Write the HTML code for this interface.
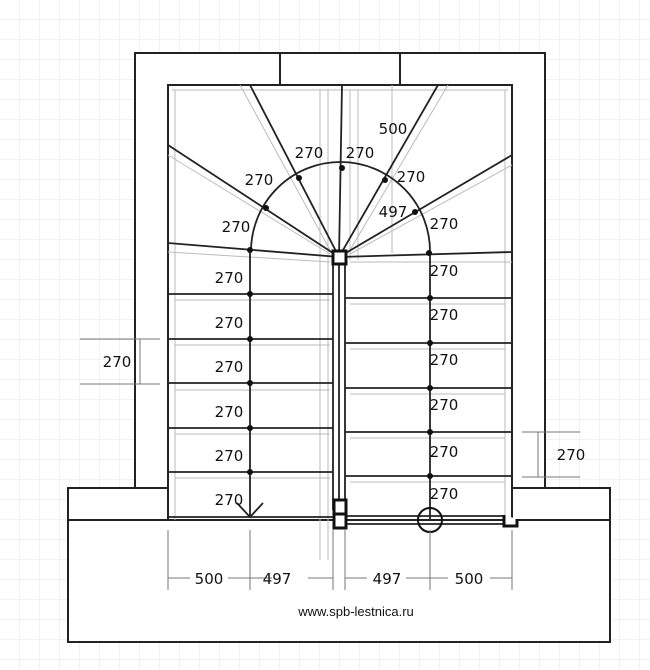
<!DOCTYPE html>
<html><head><style>html,body{margin:0;padding:0;background:#fff}svg{display:block}text{font-family:"DejaVu Sans","Liberation Sans",sans-serif;font-size:15px;fill:#111}</style></head><body>
<svg width="650" height="670" viewBox="0 0 650 670" xmlns="http://www.w3.org/2000/svg">
<defs><pattern id="g" width="20" height="20" patternUnits="userSpaceOnUse"><path d="M20 0V20H0" fill="none" stroke="#e6e6e6" stroke-width="1"/></pattern></defs>
<rect width="650" height="670" fill="url(#g)"/>
<g fill="#fff" stroke="#222" stroke-width="2">
<rect x="135" y="53" width="410" height="436"/>
<rect x="68" y="488" width="542" height="154"/>
<rect x="168" y="85" width="344" height="435"/>
</g>
<g stroke="#222" stroke-width="2" fill="none">
<line x1="68" y1="520" x2="610" y2="520"/>
<line x1="280" y1="53" x2="280" y2="85"/><line x1="400" y1="53" x2="400" y2="85"/>
<line x1="135" y1="488" x2="168" y2="488"/><line x1="512" y1="488" x2="545" y2="488"/>
</g>
<g stroke="#bbb" stroke-width="1" fill="none">
<line x1="175" y1="90" x2="175" y2="520"/><line x1="505" y1="90" x2="505" y2="520"/>
<line x1="172" y1="90" x2="508" y2="90"/>
<line x1="320" y1="90" x2="320" y2="560"/><line x1="328" y1="90" x2="328" y2="560"/>
<line x1="350" y1="90" x2="350" y2="260"/><line x1="358" y1="90" x2="358" y2="260"/>
<line x1="240" y1="85" x2="330" y2="250"/><line x1="168" y1="155" x2="330" y2="254"/>
<line x1="448" y1="85" x2="350" y2="250"/><line x1="512" y1="165" x2="350" y2="254"/>
<line x1="168" y1="252" x2="330" y2="262"/><line x1="350" y1="262" x2="512" y2="262"/>
<line x1="175" y1="300" x2="330" y2="300"/><line x1="175" y1="345" x2="330" y2="345"/><line x1="175" y1="390" x2="330" y2="390"/><line x1="175" y1="434" x2="330" y2="434"/><line x1="175" y1="478" x2="330" y2="478"/>
<line x1="350" y1="304" x2="505" y2="304"/><line x1="350" y1="349" x2="505" y2="349"/><line x1="350" y1="394" x2="505" y2="394"/><line x1="350" y1="438" x2="505" y2="438"/><line x1="350" y1="482" x2="505" y2="482"/>
<line x1="392" y1="85" x2="392" y2="253"/>
</g>
<g stroke="#222" stroke-width="1.8" fill="none">
<line x1="250" y1="85" x2="339" y2="257"/>
<line x1="342" y1="85" x2="339" y2="257"/>
<line x1="438" y1="85" x2="339" y2="257"/>
<line x1="168" y1="145" x2="339" y2="257"/>
<line x1="512" y1="155" x2="339" y2="257"/>
<line x1="168" y1="243" x2="339" y2="257"/>
<line x1="512" y1="252" x2="339" y2="257"/>
<path d="M251 250 A89 89 0 0 1 430 253"/>
<line x1="250" y1="250" x2="250" y2="517"/>
<line x1="430" y1="253" x2="430" y2="520"/>
<line x1="168" y1="294" x2="333" y2="294"/><line x1="168" y1="339" x2="333" y2="339"/><line x1="168" y1="383" x2="333" y2="383"/><line x1="168" y1="428" x2="333" y2="428"/><line x1="168" y1="472" x2="333" y2="472"/><line x1="168" y1="517" x2="333" y2="517"/>
<line x1="345" y1="298" x2="512" y2="298"/><line x1="345" y1="343" x2="512" y2="343"/><line x1="345" y1="388" x2="512" y2="388"/><line x1="345" y1="432" x2="512" y2="432"/><line x1="345" y1="476" x2="512" y2="476"/>
<line x1="333" y1="264" x2="333" y2="510"/><line x1="339" y1="264" x2="339" y2="510"/><line x1="345" y1="264" x2="345" y2="510"/>
<line x1="345" y1="516" x2="505" y2="516"/><line x1="345" y1="524" x2="505" y2="524"/>
<path d="M237 503 L250 517 L263 503"/>
</g>
<circle cx="430" cy="520" r="12" fill="none" stroke="#111" stroke-width="2"/>
<g stroke="#111" stroke-width="3" fill="#fff">
<rect x="333" y="251" width="13" height="13"/>
<rect x="334" y="500" width="12" height="14"/>
<rect x="334" y="514" width="12" height="14"/>
<path d="M504 515 V526 H517 V519"/>
</g>
<g fill="#111">
<circle cx="250" cy="250" r="3"/><circle cx="266" cy="208" r="3"/><circle cx="299" cy="178" r="3"/><circle cx="342" cy="168" r="3"/><circle cx="385" cy="180" r="3"/><circle cx="415" cy="212" r="3"/><circle cx="429" cy="253" r="3"/>
<circle cx="250" cy="294" r="3"/><circle cx="250" cy="339" r="3"/><circle cx="250" cy="383" r="3"/><circle cx="250" cy="428" r="3"/><circle cx="250" cy="472" r="3"/>
<circle cx="430" cy="298" r="3"/><circle cx="430" cy="343" r="3"/><circle cx="430" cy="388" r="3"/><circle cx="430" cy="432" r="3"/><circle cx="430" cy="476" r="3"/>
</g>
<g stroke="#777" stroke-width="1" fill="none">
<line x1="80" y1="339" x2="160" y2="339"/><line x1="80" y1="384" x2="160" y2="384"/><line x1="140" y1="339" x2="140" y2="384"/>
<line x1="522" y1="432" x2="580" y2="432"/><line x1="522" y1="477" x2="580" y2="477"/><line x1="538" y1="432" x2="538" y2="477"/>
<line x1="168" y1="530" x2="168" y2="590"/><line x1="250" y1="530" x2="250" y2="590"/><line x1="333" y1="530" x2="333" y2="590"/><line x1="345" y1="530" x2="345" y2="590"/><line x1="430" y1="530" x2="430" y2="590"/><line x1="512" y1="530" x2="512" y2="590"/>
<line x1="168" y1="578" x2="190" y2="578"/><line x1="228" y1="578" x2="272" y2="578"/><line x1="308" y1="578" x2="333" y2="578"/>
<line x1="345" y1="578" x2="367" y2="578"/><line x1="406" y1="578" x2="448" y2="578"/><line x1="490" y1="578" x2="512" y2="578"/>
</g>
<g text-anchor="middle">
<text x="236" y="232">270</text><text x="259" y="185">270</text><text x="309" y="158">270</text><text x="360" y="158">270</text><text x="411" y="182">270</text><text x="393" y="217">497</text><text x="444" y="229">270</text><text x="393" y="134">500</text>
<text x="229" y="283">270</text><text x="229" y="328">270</text><text x="229" y="372">270</text><text x="229" y="417">270</text><text x="229" y="461">270</text><text x="229" y="505">270</text>
<text x="444" y="276">270</text><text x="444" y="320">270</text><text x="444" y="365">270</text><text x="444" y="410">270</text><text x="444" y="457">270</text><text x="444" y="499">270</text>
<text x="117" y="367">270</text><text x="571" y="460">270</text>
<text x="209" y="584">500</text><text x="277" y="584">497</text><text x="387" y="584">497</text><text x="469" y="584">500</text>
<text x="356" y="616" style="font-family:'Liberation Sans',sans-serif;font-size:13px">www.spb-lestnica.ru</text>
</g>
</svg>
</body></html>
